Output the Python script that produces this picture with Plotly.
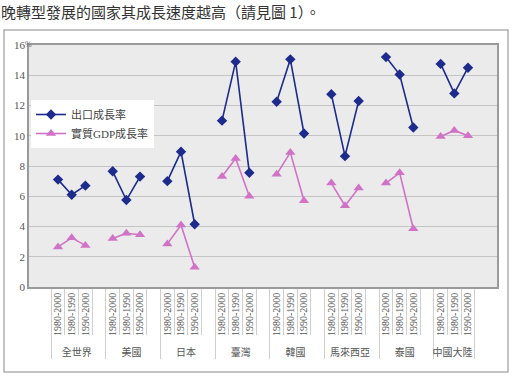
import plotly.graph_objects as go

# ---------------- data ----------------
countries = ["全世界", "美國", "日本", "臺灣", "韓國", "馬來西亞", "泰國", "中國大陸"]
periods = ["1980-2000", "1980-1990", "1990-2000"]

export_growth = [
    [7.1, 6.1, 6.7],     # 全世界
    [7.65, 5.75, 7.3],   # 美國
    [7.0, 8.95, 4.15],   # 日本
    [11.0, 14.9, 7.55],  # 臺灣
    [12.25, 15.05, 10.15],  # 韓國
    [12.75, 8.65, 12.3],  # 馬來西亞
    [15.2, 14.05, 10.55],  # 泰國
    [14.75, 12.8, 14.5],  # 中國大陸
]
gdp_growth = [
    [2.65, 3.25, 2.75],
    [3.2, 3.55, 3.45],
    [2.85, 4.1, 1.3],
    [7.3, 8.5, 6.0],
    [7.45, 8.9, 5.7],
    [6.87, 5.37, 6.55],
    [6.87, 7.55, 3.85],
    [9.95, 10.35, 10.0],
]
y_ticks = [0, 2, 4, 6, 8, 10, 12, 14, 16]

header = "晚轉型發展的國家其成長速度越高（請見圖 1）。"

# ---------------- build multicategory axis (blank slot between groups) ----------------
outer, inner, ex, gd = [], [], [], []
for i, c in enumerate(countries):
    for j, p in enumerate(periods):
        outer.append(c)
        inner.append(p)
        ex.append(export_growth[i][j])
        gd.append(gdp_growth[i][j])
    if i < len(countries) - 1:
        outer.append(c)
        inner.append(" ")
        ex.append(None)
        gd.append(None)

BLUE = "#1c2b8c"
PINK = "#d073c6"
FONT = "'Liberation Serif', 'Noto Sans CJK TC', serif"

fig = go.Figure()
fig.add_trace(go.Scatter(
    x=[outer, inner], y=ex, name="出口成長率", mode="lines+markers",
    line=dict(color=BLUE, width=1.6),
    marker=dict(symbol="diamond", size=8, color=BLUE),
    connectgaps=False,
))
fig.add_trace(go.Scatter(
    x=[outer, inner], y=gd, name="實質GDP成長率", mode="lines+markers",
    line=dict(color=PINK, width=1.6),
    marker=dict(symbol="triangle-up", size=9, color=PINK),
    connectgaps=False,
))

L, R, T, B = 29, 16, 45, 89
W, H = 513, 376
pw, ph = W - L - R, H - T - B


def px_x(x):
    return (x - L) / pw


def px_y(y):
    return (H - B - y) / ph


fig.update_layout(
    width=W, height=H,
    margin=dict(l=L, r=R, t=T, b=B),
    paper_bgcolor="white",
    plot_bgcolor="#ebebeb",
    font=dict(family=FONT, size=11, color="#555555"),
    showlegend=True,
    legend=dict(
        x=px_x(31), y=px_y(100), xanchor="left", yanchor="top",
        bgcolor="white", borderwidth=0,
        font=dict(family=FONT, size=11, color="#444444"),
        tracegroupgap=0, itemwidth=30,
    ),
    xaxis=dict(
        type="multicategory",
        tickangle=-90,
        tickfont=dict(family=FONT, size=10, color="#555555"),
        ticks="outside", ticklen=46, tickcolor="#cfcfcf", tickwidth=1,
        tickson="boundaries",
        showdividers=True, dividercolor="#cfcfcf", dividerwidth=1,
        showline=True, linecolor="#9a9a9a", linewidth=1.5, mirror=True,
        showgrid=False,
    ),
    yaxis=dict(
        range=[0, 16],
        tickvals=y_ticks,
        ticks="", showgrid=True, gridcolor="#c4c4c4", gridwidth=1,
        showline=True, linecolor="#9a9a9a", linewidth=1.5, mirror=True,
        tickfont=dict(family=FONT, size=11, color="#555555"),
        zeroline=False,
    ),
)

# outer frame of the chart
fig.add_shape(type="rect", xref="paper", yref="paper",
              x0=px_x(4), x1=px_x(508), y0=px_y(372), y1=px_y(30),
              line=dict(color="#b0b0b0", width=1.5), fillcolor="rgba(0,0,0,0)",
              layer="below")

# unit label
fig.add_annotation(text="%", xref="paper", yref="paper",
                   x=px_x(23), y=px_y(38), showarrow=False,
                   font=dict(family=FONT, size=8, color="#666666"))

# header text of the source page
fig.add_annotation(text=header, xref="paper", yref="paper",
                   x=px_x(0), y=px_y(0), xanchor="left", yanchor="top",
                   showarrow=False, borderpad=0,
                   font=dict(family="Noto Sans CJK TC", size=15, color="#333333"))

fig.write_html("out.html")
